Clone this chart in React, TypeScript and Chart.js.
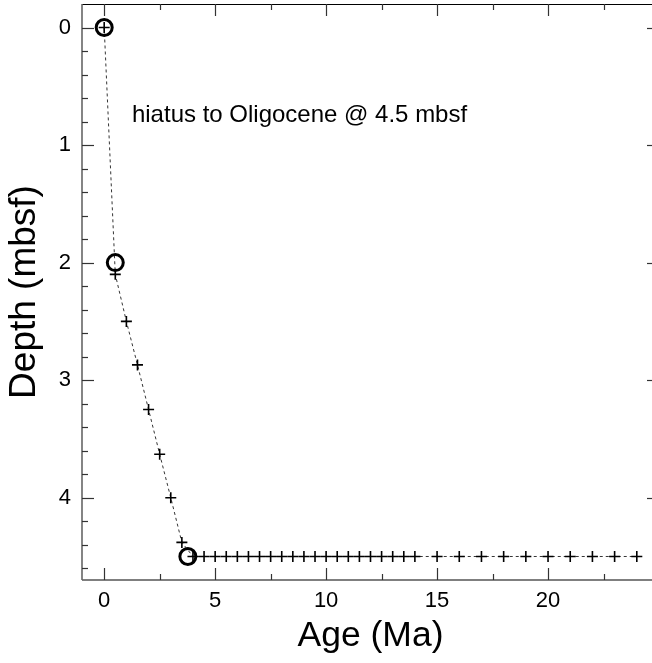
import React, { useEffect, useRef } from "react";
import { Chart, registerables } from "chart.js";

Chart.register(...registerables);

// ---- data ----
const ageCross = [
  0, 0.5, 1, 1.5, 2, 2.5, 3, 3.5, 4, 4.5, 5, 5.5, 6, 6.5, 7, 7.5, 8, 8.5, 9, 9.5,
  10, 10.5, 11, 11.5, 12, 12.5, 13, 13.5, 14, 15, 16, 17, 18, 19, 20, 21, 22, 23, 24,
];
const depthCross = [
  0, 2.1, 2.5, 2.87, 3.25, 3.63, 4.0, 4.38, 4.5, 4.5, 4.5, 4.5, 4.5, 4.5, 4.5, 4.5, 4.5, 4.5, 4.5, 4.5,
  4.5, 4.5, 4.5, 4.5, 4.5, 4.5, 4.5, 4.5, 4.5, 4.5, 4.5, 4.5, 4.5, 4.5, 4.5, 4.5, 4.5, 4.5, 4.5,
];
const ageCircle = [0, 0.5, 3.77];
const depthCircle = [0, 2.0, 4.5];

const xMajorTicks = [0, 5, 10, 15, 20];
const xMinorTicks = [2.5, 7.5, 12.5, 17.5, 22.5];
const yMajorTicks = [0, 1, 2, 3, 4];
const yMinorTicks = [
  0.2, 0.4, 0.6, 0.8, 1.2, 1.4, 1.6, 1.8, 2.2, 2.4, 2.6, 2.8, 3.2, 3.4, 3.6, 3.8, 4.2, 4.4, 4.6,
];

const annotationText = "hiatus to Oligocene @ 4.5 mbsf";
const annotationAge = 1.25;
const annotationDepth = 0.8;

const FONT = "'Liberation Sans', Arial, Helvetica, sans-serif";

const framePlugin = {
  id: "frameTicks",
  beforeDatasetsDraw(chart: any) {
    const { ctx, chartArea: a, scales } = chart;
    const x = scales.x;
    const y = scales.y;
    ctx.save();
    const seg = (x1: number, y1: number, x2: number, y2: number) => {
      ctx.beginPath();
      ctx.moveTo(x1, y1);
      ctx.lineTo(x2, y2);
      ctx.stroke();
    };
    // frame
    ctx.strokeStyle = "#000";
    ctx.lineWidth = 1.2;
    seg(a.left, a.top + 0.5, a.right, a.top + 0.5);
    seg(a.left, a.bottom, a.right, a.bottom);
    seg(a.right, a.top, a.right, a.bottom);
    ctx.strokeStyle = "#666";
    ctx.lineWidth = 1.6;
    seg(a.left, a.top, a.left, a.bottom);

    ctx.strokeStyle = "#333";
    ctx.lineWidth = 1.2;
    const major = 12;
    const minor = 6;
    for (const v of xMajorTicks) {
      const px = Math.round(x.getPixelForValue(v)) + 0.5;
      seg(px, a.bottom, px, a.bottom - major);
      seg(px, a.top, px, a.top + major);
    }
    for (const v of xMinorTicks) {
      const px = Math.round(x.getPixelForValue(v)) + 0.5;
      seg(px, a.bottom, px, a.bottom - minor);
      seg(px, a.top, px, a.top + minor);
    }
    for (const v of yMajorTicks) {
      const py = Math.round(y.getPixelForValue(v)) + 0.5;
      seg(a.left, py, a.left + major, py);
      seg(a.right, py, a.right - major, py);
    }
    for (const v of yMinorTicks) {
      const py = Math.round(y.getPixelForValue(v)) + 0.5;
      seg(a.left, py, a.left + minor, py);
      seg(a.right, py, a.right - minor, py);
    }
    ctx.restore();
  },
  afterDraw(chart: any) {
    const { ctx, scales } = chart;
    ctx.save();
    ctx.fillStyle = "#000";
    ctx.font = `24px ${FONT}`;
    ctx.textBaseline = "alphabetic";
    ctx.textAlign = "left";
    ctx.fillText(
      annotationText,
      scales.x.getPixelForValue(annotationAge),
      scales.y.getPixelForValue(annotationDepth)
    );
    ctx.restore();
  },
};

export default function App() {
  const canvasRef = useRef<HTMLCanvasElement | null>(null);

  useEffect(() => {
    const canvas = canvasRef.current;
    if (!canvas) return;
    const chart = new Chart(canvas, {
      type: "scatter",
      data: {
        datasets: [
          {
            label: "circles",
            data: ageCircle.map((a, i) => ({ x: a, y: depthCircle[i] })),
            showLine: false,
            pointStyle: "circle",
            pointRadius: 8,
            pointBorderWidth: 3,
            pointBackgroundColor: "rgba(0,0,0,0)",
            pointBorderColor: "#000",
          },
          {
            label: "crosses",
            data: ageCross.map((a, i) => ({ x: a, y: depthCross[i] })),
            showLine: true,
            borderColor: "#000",
            borderWidth: 0.8,
            borderDash: [3, 3],
            pointStyle: "cross",
            pointRadius: 5.5,
            pointBorderWidth: 1.6,
            pointBorderColor: "#000",
            pointBackgroundColor: "#000",
          },
        ],
      },
      options: {
        animation: false,
        responsive: false,
        devicePixelRatio: 1,
        layout: { autoPadding: false, padding: { top: 4, right: 3, left: 0, bottom: 0 } },
        plugins: { legend: { display: false }, tooltip: { enabled: false } },
        scales: {
          x: {
            type: "linear",
            min: -1,
            max: 25,
            afterBuildTicks: (s: any) => {
              s.ticks = xMajorTicks.map((v) => ({ value: v }));
            },
            afterFit: (s: any) => {
              s.height = 83;
              s.paddingLeft = 0;
              s.paddingRight = 0;
              s.paddingTop = 0;
              s.paddingBottom = 0;
            },
            grid: { display: false, drawTicks: false },
            border: { display: false },
            ticks: {
              color: "#000",
              font: { family: FONT, size: 22 },
              padding: 8,
              autoSkip: false,
              maxRotation: 0,
              callback: (v: any) => String(v),
            },
            title: {
              display: true,
              text: "Age (Ma)",
              color: "#000",
              font: { family: FONT, size: 35.5 },
              padding: { top: 0, bottom: 5 },
            },
          },
          y: {
            type: "linear",
            reverse: true,
            min: -0.2,
            max: 4.7,
            afterBuildTicks: (s: any) => {
              s.ticks = yMajorTicks.map((v) => ({ value: v }));
            },
            afterFit: (s: any) => {
              s.width = 82;
              s.paddingLeft = 0;
              s.paddingRight = 0;
              s.paddingTop = 0;
              s.paddingBottom = 0;
            },
            grid: { display: false, drawTicks: false },
            border: { display: false },
            ticks: {
              color: "#000",
              font: { family: FONT, size: 22 },
              padding: 11,
              autoSkip: false,
              callback: (v: any) => String(v),
            },
            title: {
              display: true,
              text: "Depth (mbsf)",
              color: "#000",
              font: { family: FONT, size: 37 },
              padding: { top: 3, bottom: 0 },
            },
          },
        },
      },
      plugins: [framePlugin],
    });
    return () => chart.destroy();
  }, []);

  return (
    <div
      style={{
        position: "fixed",
        left: 0,
        top: 0,
        width: 652,
        height: 663,
        overflow: "hidden",
        background: "#fff",
      }}
    >
      <canvas ref={canvasRef} width={662} height={663} style={{ width: 662, height: 663, display: "block" }} />
    </div>
  );
}
